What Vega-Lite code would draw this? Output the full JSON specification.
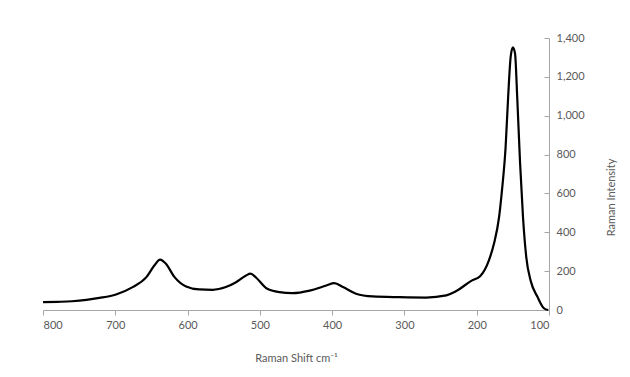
{
  "$schema": "https://vega.github.io/schema/vega-lite/v6.json",
  "width": 506,
  "height": 272,
  "autosize": "none",
  "padding": {"left": 43, "top": 38, "right": 81, "bottom": 67},
  "background": "white",
  "config": {"view": {"stroke": null}, "font": "Lato"},
  "data": {"values": [
    {"shift": 800, "intensity": 40},
    {"shift": 780, "intensity": 42},
    {"shift": 760, "intensity": 45},
    {"shift": 740, "intensity": 52},
    {"shift": 722, "intensity": 62},
    {"shift": 699, "intensity": 80},
    {"shift": 676, "intensity": 118},
    {"shift": 657, "intensity": 169},
    {"shift": 646, "intensity": 229},
    {"shift": 638, "intensity": 259},
    {"shift": 630, "intensity": 238},
    {"shift": 618, "intensity": 169},
    {"shift": 602, "intensity": 121},
    {"shift": 584, "intensity": 106},
    {"shift": 565, "intensity": 104},
    {"shift": 547, "intensity": 118},
    {"shift": 533, "intensity": 143},
    {"shift": 519, "intensity": 178},
    {"shift": 513, "intensity": 187},
    {"shift": 505, "intensity": 166},
    {"shift": 491, "intensity": 112},
    {"shift": 473, "intensity": 92},
    {"shift": 455, "intensity": 87},
    {"shift": 431, "intensity": 100},
    {"shift": 408, "intensity": 126},
    {"shift": 397, "intensity": 138},
    {"shift": 385, "intensity": 118},
    {"shift": 367, "intensity": 84},
    {"shift": 344, "intensity": 70},
    {"shift": 307, "intensity": 66},
    {"shift": 270, "intensity": 64},
    {"shift": 242, "intensity": 75},
    {"shift": 230, "intensity": 94},
    {"shift": 207, "intensity": 151},
    {"shift": 195, "intensity": 175},
    {"shift": 183, "intensity": 257},
    {"shift": 176, "intensity": 343},
    {"shift": 169, "intensity": 480},
    {"shift": 165, "intensity": 618},
    {"shift": 160, "intensity": 840},
    {"shift": 156.5, "intensity": 1098},
    {"shift": 153, "intensity": 1304},
    {"shift": 150, "intensity": 1352},
    {"shift": 147, "intensity": 1321},
    {"shift": 144, "intensity": 1098},
    {"shift": 140, "intensity": 755},
    {"shift": 136, "intensity": 480},
    {"shift": 131.5, "intensity": 274},
    {"shift": 125, "intensity": 146},
    {"shift": 116, "intensity": 68},
    {"shift": 107, "intensity": 9},
    {"shift": 101, "intensity": 0}
  ]},
  "mark": {"type": "line", "color": "#000000", "strokeWidth": 2.2, "interpolate": "monotone"},
  "encoding": {
    "x": {
      "field": "shift", "type": "quantitative",
      "scale": {"domain": [800, 100], "nice": false, "zero": false},
      "axis": {
        "title": "Raman Shift cm⁻¹", "values": [800, 700, 600, 500, 400, 300, 200, 100],
        "grid": false, "domainColor": "#a6a6a6", "tickColor": "#a6a6a6", "tickSize": 5,
        "labelColor": "#595959", "labelFontSize": 11, "labelPadding": 4,
        "titleColor": "#595959", "titleFontSize": 11, "titleFontWeight": "normal", "titlePadding": 22
      }
    },
    "y": {
      "field": "intensity", "type": "quantitative",
      "scale": {"domain": [0, 1400], "nice": false},
      "axis": {
        "orient": "right", "title": "Raman Intensity", "values": [0, 200, 400, 600, 800, 1000, 1200, 1400],
        "format": ",d", "grid": false, "domainColor": "#a6a6a6", "tickColor": "#a6a6a6", "tickSize": -5,
        "labelColor": "#595959", "labelFontSize": 11, "labelPadding": 12,
        "titleColor": "#595959", "titleFontSize": 11, "titleFontWeight": "normal",
        "titleAngle": 270, "titleX": 62, "titleY": 159, "titleAlign": "center", "titleBaseline": "middle"
      }
    }
  }
}
